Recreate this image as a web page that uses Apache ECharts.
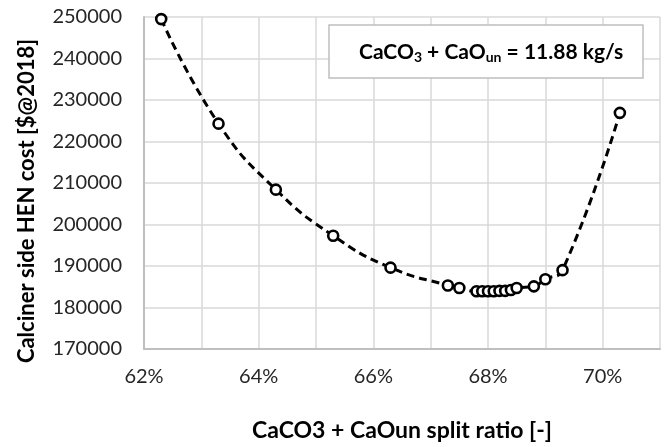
<!DOCTYPE html>
<html>
<head>
<meta charset="utf-8">
<script src="https://cdn.jsdelivr.net/npm/echarts@6/dist/echarts.min.js"></script>
<style>
html,body{margin:0;padding:0;background:#fff;}
#chart{width:671px;height:447px;}
</style>
</head>
<body>
<div id="chart"></div>
<script>
// split ratio (fraction) and calciner side HEN cost [$@2018]
const splitRatio = [0.623, 0.633, 0.643, 0.653, 0.663, 0.673, 0.675, 0.678, 0.679, 0.680, 0.681, 0.682, 0.683, 0.684, 0.685, 0.688, 0.690, 0.693, 0.703];
const henCost = [249500, 224300, 208400, 197300, 189600, 185300, 184700, 183900, 183900, 183900, 183900, 184000, 184000, 184200, 184700, 185100, 186800, 189000, 226900];
const yTicks = {min: 170000, max: 250000, interval: 10000};
const xTicks = {min: 0.62, max: 0.71, interval: 0.01};
const xTickLabels = ['62%', '64%', '66%', '68%', '70%'];
const xTitle = 'CaCO3 + CaOun split ratio [-]';
const yTitle = 'Calciner side HEN cost [$@2018]';

const chart = echarts.init(document.getElementById('chart'));
const FONT = 'Lato';
const pairs = splitRatio.map((x, i) => [x, henCost[i]]);

chart.setOption({
  animation: false,
  backgroundColor: '#ffffff',
  grid: {left: 144, right: 11, top: 17, bottom: 90, containLabel: false},
  xAxis: {
    type: 'value',
    min: xTicks.min, max: xTicks.max, interval: xTicks.interval,
    axisLine: {show: true, lineStyle: {color: '#bfbfbf', width: 2}},
    axisTick: {show: false},
    splitLine: {show: true, interval: 1, lineStyle: {color: '#d9d9d9', width: 1.5}},
    axisLabel: {
      margin: 18, color: '#262626', fontFamily: FONT, fontSize: 20,
      formatter: function (v) {
        const s = Math.round(v * 100) + '%';
        return xTickLabels.indexOf(s) >= 0 ? s : '';
      }
    },
    name: xTitle, nameLocation: 'middle', nameGap: 70,
    nameTextStyle: {fontFamily: FONT, fontSize: 23, fontWeight: 'bold', color: '#000'}
  },
  yAxis: {
    type: 'value',
    min: yTicks.min, max: yTicks.max, interval: yTicks.interval,
    axisLine: {show: true, lineStyle: {color: '#bfbfbf', width: 2}},
    axisTick: {show: false},
    splitLine: {show: true, lineStyle: {color: '#d9d9d9', width: 1.5}},
    axisLabel: {margin: 22, color: '#262626', fontFamily: FONT, fontSize: 20,
      formatter: function (v) { return String(v); }}
  },
  graphic: [
    {
      type: 'text', x: 27, y: 201, rotation: Math.PI / 2,
      style: {text: yTitle, font: 'bold 22px Lato', fill: '#000', textAlign: 'center', textVerticalAlign: 'middle'}
    },
    {
      type: 'rect', shape: {x: 329, y: 25, width: 314, height: 53},
      style: {fill: '#ffffff', stroke: '#bfbfbf', lineWidth: 1.5}, z: 10
    },
    {
      type: 'text', x: 359, y: 52, z: 11,
      style: {
        rich: {
          m: {fontFamily: FONT, fontWeight: 'bold', fontSize: 21, fill: '#000'},
          s: {fontFamily: FONT, fontWeight: 'bold', fontSize: 14, fill: '#000', padding: [11, 0, 0, 0]}
        },
        text: '{m|CaCO}{s|3}{m| + CaO}{s|un}{m| = 11.88 kg/s}',
        textVerticalAlign: 'middle'
      }
    }
  ],
  series: [{
    type: 'line',
    data: pairs,
    smooth: 0.5,
    lineStyle: {color: '#000', width: 3, type: [8, 5]},
    symbol: 'circle', symbolSize: 10,
    itemStyle: {color: '#ffffff', borderColor: '#000', borderWidth: 2.6},
    z: 5
  }]
});
</script>
</body>
</html>
